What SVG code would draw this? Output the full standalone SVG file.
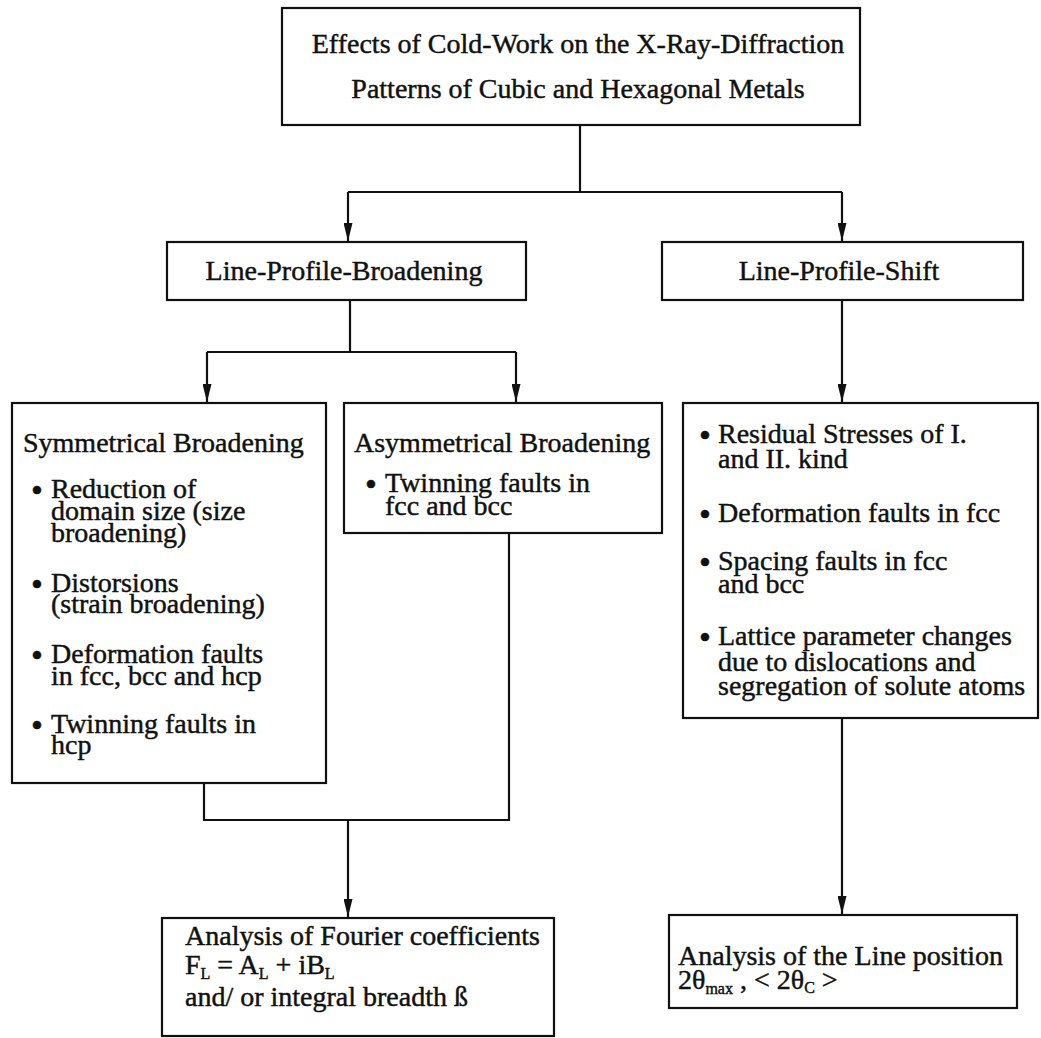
<svg xmlns="http://www.w3.org/2000/svg" width="1041" height="1038" viewBox="0 0 1041 1038">
<style>
.box{fill:#fff;stroke:#111;stroke-width:2.2}
.t{font-family:"Liberation Serif","Times New Roman",serif;font-size:28px;fill:#111;stroke:#111;stroke-width:0.45}
.c{text-anchor:middle}
.b{font-size:34px}
.sub{font-size:16px}
.con{fill:none;stroke:#111;stroke-width:2.2}
</style>
<defs>
<marker id="av" viewBox="0 0 18 9" refX="18" refY="4.5" markerWidth="18" markerHeight="9" orient="auto" markerUnits="userSpaceOnUse">
<path d="M0,0 L18,4.5 L0,9 Z" fill="#111"/>
</marker>
</defs>
<rect width="1041" height="1038" fill="#fff"/>

<g id="connectors">
<path class="con" d="M580,125 V192 M348,192 H842"/>
<path class="con" d="M348,192 V241" marker-end="url(#av)"/>
<path class="con" d="M842,192 V241" marker-end="url(#av)"/>
<path class="con" d="M350,300 V352 M207,352 H516"/>
<path class="con" d="M207,352 V402" marker-end="url(#av)"/>
<path class="con" d="M516,352 V402" marker-end="url(#av)"/>
<path class="con" d="M842,300 V402" marker-end="url(#av)"/>
<path class="con" d="M204,783 V820 H509 V533"/>
<path class="con" d="M348,820 V917" marker-end="url(#av)"/>
<path class="con" d="M842,718 V914" marker-end="url(#av)"/>
</g>

<g id="top">
<rect class="box" x="282" y="8" width="578" height="117"/>
<text class="t c" x="578" y="53">Effects of Cold-Work on the X-Ray-Diffraction</text>
<text class="t c" x="578" y="98">Patterns of Cubic and Hexagonal Metals</text>
</g>

<g id="broadening">
<rect class="box" x="167" y="242" width="359" height="58"/>
<text class="t c" x="344" y="280">Line-Profile-Broadening</text>
</g>

<g id="shift">
<rect class="box" x="662" y="242" width="361" height="58"/>
<text class="t c" x="839" y="280">Line-Profile-Shift</text>
</g>

<g id="symmetrical">
<rect class="box" x="12" y="403" width="314" height="380"/>
<text class="t" x="23" y="452">Symmetrical Broadening</text>
<text class="t b" x="31" y="502">•</text>
<text class="t" x="51" y="498">Reduction of<tspan x="51" dy="22">domain size (size</tspan><tspan x="51" dy="22">broadening)</tspan></text>
<text class="t b" x="31" y="596">•</text>
<text class="t" x="51" y="592">Distorsions<tspan x="51" dy="21">(strain broadening)</tspan></text>
<text class="t b" x="31" y="667">•</text>
<text class="t" x="51" y="663">Deformation faults<tspan x="51" dy="22">in fcc, bcc and hcp</tspan></text>
<text class="t b" x="31" y="737">•</text>
<text class="t" x="51" y="733">Twinning faults in<tspan x="51" dy="21">hcp</tspan></text>
</g>

<g id="asymmetrical">
<rect class="box" x="344" y="403" width="318" height="130"/>
<text class="t" x="354" y="452">Asymmetrical Broadening</text>
<text class="t b" x="365" y="496">•</text>
<text class="t" x="385" y="492">Twinning faults in<tspan x="385" dy="23">fcc and bcc</tspan></text>
</g>

<g id="residual">
<rect class="box" x="683" y="403" width="355" height="315"/>
<text class="t b" x="699" y="447">•</text>
<text class="t" x="718" y="443">Residual Stresses of I.<tspan x="718" dy="25">and II. kind</tspan></text>
<text class="t b" x="699" y="526">•</text>
<text class="t" x="718" y="522">Deformation faults in fcc</text>
<text class="t b" x="699" y="574">•</text>
<text class="t" x="718" y="570">Spacing faults in fcc<tspan x="718" dy="23">and bcc</tspan></text>
<text class="t b" x="699" y="649">•</text>
<text class="t" x="718" y="645">Lattice parameter changes<tspan x="718" dy="26">due to dislocations and</tspan><tspan x="718" dy="24">segregation of solute atoms</tspan></text>
</g>

<g id="fourier">
<rect class="box" x="162" y="918" width="392" height="118"/>
<text class="t" x="185" y="945">Analysis of Fourier coefficients</text>
<text class="t" x="185" y="974">F<tspan class="sub" dy="5">L</tspan><tspan dy="-5"> = A</tspan><tspan class="sub" dy="5">L</tspan><tspan dy="-5"> + iB</tspan><tspan class="sub" dy="5">L</tspan></text>
<text class="t" x="185" y="1006">and/ or integral breadth ß</text>
</g>

<g id="position">
<rect class="box" x="669" y="915" width="348" height="93"/>
<text class="t" x="678" y="965">Analysis of the Line position</text>
<text class="t" x="678" y="989">2θ<tspan class="sub" font-size="13" dy="5">max</tspan><tspan dy="-5"> , &lt; 2θ</tspan><tspan class="sub" dy="4">C</tspan><tspan dy="-4"> &gt;</tspan></text>
</g>
</svg>
